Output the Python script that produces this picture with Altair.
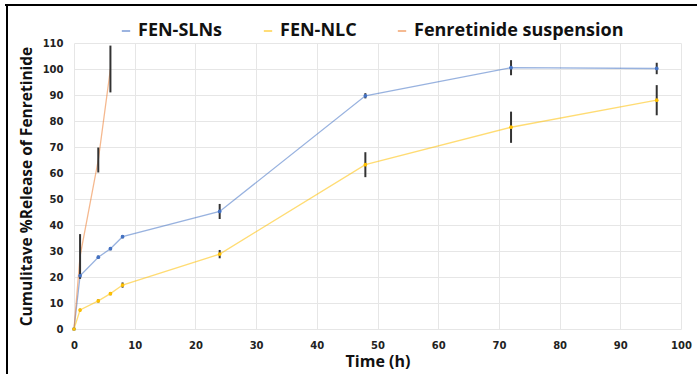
import altair as alt
import pandas as pd

series_names = ["FEN-SLNs", "FEN-NLC", "Fenretinide suspension"]

sln_time = [0, 1, 4, 6, 8, 24, 48, 72, 96]
sln_value = [0, 20.5, 27.6, 30.9, 35.5, 45.2, 89.7, 100.5, 100.2]
sln_err = [0, 1.2, 0.6, 0.6, 0.6, 2.9, 1.0, 2.9, 2.2]

nlc_time = [0, 1, 4, 6, 8, 24, 48, 72, 96]
nlc_value = [0, 7.3, 10.8, 13.6, 16.9, 28.8, 63.2, 77.6, 88.0]
nlc_err = [0, 0.5, 0.6, 0.6, 1.0, 1.6, 4.8, 6.0, 5.8]

susp_time = [0, 1, 4, 6]
susp_value = [0, 28, 65, 100]
susp_err = [0, 8.5, 4.8, 9.0]

x_ticks = list(range(0, 101, 10))
y_ticks = list(range(0, 111, 10))

marker_colors = ["#4472C4", "#FFC000", "#ED7D31"]

rows = []
for name, ts, vs, es, mk in [
    (series_names[0], sln_time, sln_value, sln_err, True),
    (series_names[1], nlc_time, nlc_value, nlc_err, True),
    (series_names[2], susp_time, susp_value, susp_err, False),
]:
    for t, v, e in zip(ts, vs, es):
        rows.append({"series": name, "time": t, "value": v,
                     "lo": v - e, "hi": v + e, "err": e, "marker": mk})
df = pd.DataFrame(rows)

W, H = 607, 286
PAD_L, PAD_T = 74, 43

color_scale = alt.Scale(domain=series_names, range=marker_colors)
color = alt.Color(
    "series:N",
    scale=color_scale,
    sort=series_names,
    legend=alt.Legend(
        title=None, orient="none", direction="horizontal",
        legendX=43, legendY=-21,
        symbolType="stroke", symbolSize=70, symbolStrokeWidth=1.5,
        symbolOpacity=0.7,
        labelFont="Open Sans", labelFontWeight="bold", labelFontSize=18,
        labelColor="#111111", labelOffset=3, columnPadding=36,
        labelLimit=400,
    ),
)

x_scale = alt.Scale(domain=[0, 100], nice=False)
y_scale = alt.Scale(domain=[0, 110], nice=False)
x_axis = alt.Axis(values=x_ticks, title="Time (h)",
                  labelOverlap=False, labelFlush=False, tickCount=11)
y_axis = alt.Axis(values=y_ticks, title="Cumulitave %Release of Fenretinide",
                  labelOverlap=False, labelFlush=False, tickCount=12)

x = alt.X("time:Q", scale=x_scale, axis=x_axis)
y = alt.Y("value:Q", scale=y_scale, axis=y_axis)
y_lo = alt.Y("lo:Q", scale=y_scale, axis=y_axis)

base = alt.Chart(df)

lines = base.mark_line(strokeWidth=1.3, strokeOpacity=0.55).encode(
    x=x, y=y, color=color, order="time:Q")

points = base.transform_filter("datum.marker").mark_point(
    filled=True, shape="circle", size=14, opacity=1).encode(
    x=x, y=y, color=alt.Color("series:N", legend=None, scale=color_scale))

errs = base.transform_filter("datum.err > 0").mark_rule(
    color="#333333", strokeWidth=2).encode(
    x=x, y=y_lo, y2="hi:Q")

frame_top = alt.Chart(pd.DataFrame({"k": [0]})).mark_rule(
    color="#000000", strokeWidth=2).encode(
    x=alt.value(-69), x2=alt.value(697), y=alt.value(-38))
frame_left = alt.Chart(pd.DataFrame({"k": [0]})).mark_rule(
    color="#000000", strokeWidth=2).encode(
    x=alt.value(-67), y=alt.value(-39), y2=alt.value(340))

chart = alt.layer(lines, errs, points, frame_top, frame_left).properties(
    width=W, height=H,
    padding={"left": PAD_L, "top": PAD_T, "right": 697 - PAD_L - W, "bottom": 374 - PAD_T - H},
    autosize=alt.AutoSizeParams(type="none"),
    background="white",
).configure_view(stroke=None).configure_axis(
    grid=True, gridColor="#e6e6e6", gridWidth=1,
    domain=False, ticks=False,
    labelFont="DejaVu Sans", labelFontWeight="bold", labelFontSize=10,
    labelColor="#222222",
    titleFont="Open Sans", titleFontWeight="bold", titleColor="#111111",
).configure_axisX(
    labelPadding=11, titleFontSize=16, titlePadding=3,
).configure_axisY(
    labelPadding=11, titleFontSize=15.5, titlePadding=8,
)

chart.save("out.html", embed_options={"renderer": "svg", "actions": False})
